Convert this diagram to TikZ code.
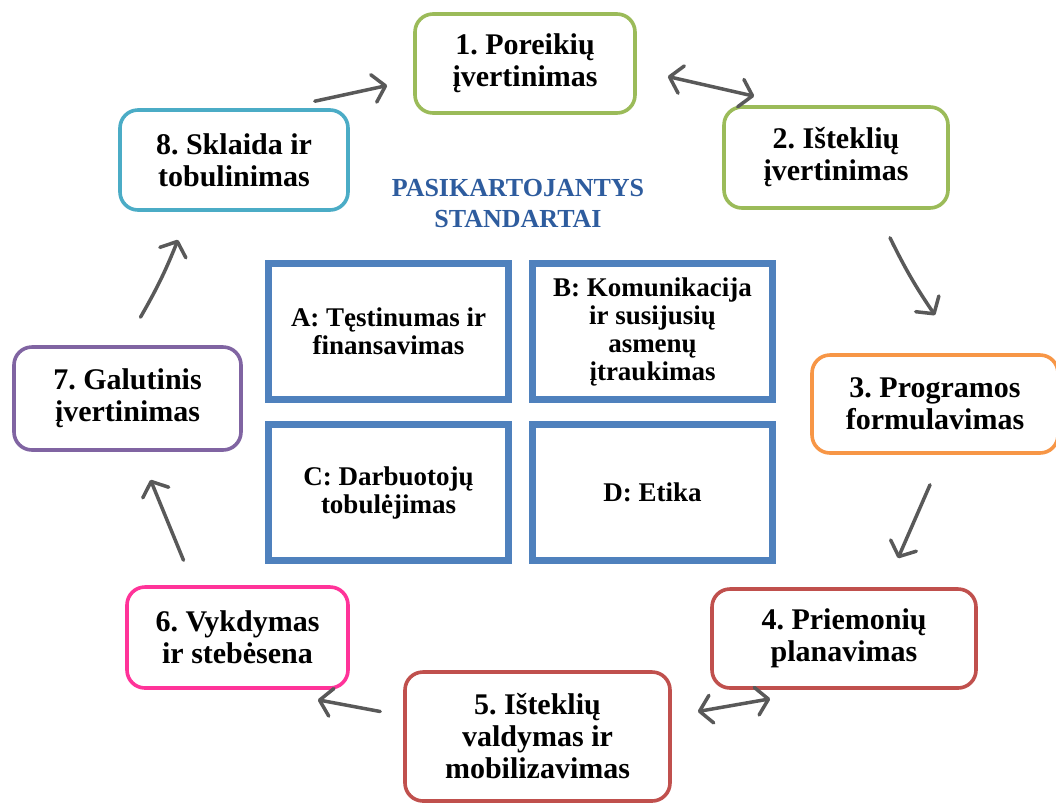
\documentclass[tikz,border=0pt]{standalone}
\usepackage{fontspec}
\setmainfont{Liberation Serif}
\usetikzlibrary{arrows.meta,shadows}
\definecolor{verde}{HTML}{9BBB59}
\definecolor{celeste}{HTML}{4BACC6}
\definecolor{naranja}{HTML}{F79646}
\definecolor{morado}{HTML}{8064A2}
\definecolor{rojo}{HTML}{C0504D}
\definecolor{rosa}{HTML}{FF3399}
\definecolor{azul}{HTML}{4F81BD}
\definecolor{azultxt}{HTML}{2E5C9E}
\definecolor{gris}{HTML}{595959}
\frenchspacing

\begin{document}
\begin{tikzpicture}[x=1pt,y=-1pt,
  etapa/.style={draw, rounded corners=18pt, line width=3.6pt, fill=white, align=center,
    font=\bfseries\fontsize{30}{32}\selectfont},
  estandar/.style={draw=azul, line width=7pt, fill=white, align=center,
    minimum width=240pt, minimum height=136pt, font=\bfseries\fontsize{27}{28}\selectfont,
    drop shadow={shadow xshift=2pt, shadow yshift=-3pt, opacity=.3}},
  flecha/.style={draw=gris, line width=3.5pt, line cap=round,
    -{Straight Barb[length=12pt,width=28pt,line cap=round,line join=round]}},
  doble/.style={flecha, {Straight Barb[length=12pt,width=28pt,line cap=round,line join=round]}-{Straight Barb[length=12pt,width=28pt,line cap=round,line join=round]}}]
  \useasboundingbox (0,0) rectangle (1056,807);
  % etapas del ciclo
  \node[etapa, draw=verde, minimum width=220pt, minimum height=99pt] (b1) at (525,63.5) {1. Poreikių\\įvertinimas};
  \node[etapa, draw=verde, minimum width=224pt, minimum height=101pt] (b2) at (836,157.5) {2. Išteklių\\įvertinimas};
  \node[etapa, draw=naranja, minimum width=246pt, minimum height=98pt] (b3) at (935,404) {3. Programos\\formulavimas};
  \node[etapa, draw=rojo, minimum width=264pt, minimum height=99pt] (b4) at (844,638.5) {4. Priemonių\\planavimas};
  \node[etapa, draw=rojo, minimum width=265pt, minimum height=129pt] (b5) at (537.5,736.5) {5. Išteklių\\valdymas ir\\mobilizavimas};
  \node[etapa, draw=rosa, minimum width=221pt, minimum height=101pt] (b6) at (237.5,637.5) {6. Vykdymas\\ir stebėsena};
  \node[etapa, draw=morado, minimum width=227pt, minimum height=103pt] (b7) at (127.5,398.5) {7. Galutinis\\įvertinimas};
  \node[etapa, draw=celeste, minimum width=228pt, minimum height=100pt] (b8) at (234,160) {8. Sklaida ir\\tobulinimas};
  % titulo central
  \node[text=azultxt, align=center, font=\bfseries\fontsize{26}{31}\selectfont] (tit) at (518,204) {PASIKARTOJANTYS\\STANDARTAI};
  % estandares
  \node[estandar] (sa) at (388.5,331.5) {A: Tęstinumas ir\\finansavimas};
  \node[estandar] (sb) at (652.5,331.5) {B: Komunikacija\\ir susijusių\\asmenų\\įtraukimas};
  \node[estandar] (sc) at (388.5,492.5) {C: Darbuotojų\\tobulėjimas};
  \node[estandar] (sd) at (652.5,492.5) {D: Etika};
  % flechas
  \draw[flecha] ([shift={(-35,-7)}]b8.north east) -- ([shift={(-26,22)}]b1.west);
  \draw[doble] ([shift={(31,13)}]b1.east) -- ([shift={(32,-9)}]b2.north west);
  \draw[flecha] ([shift={(54,28)}]b2.south) to[bend right=4] ([shift={(0,-38)}]b3.north);
  \draw[flecha] ([shift={(-5,30)}]b3.south) -- ([shift={(54,-29)}]b4.north);
  \draw[doble] ([shift={(26,-25)}]b5.east) -- ([shift={(60,9)}]b4.south west);
  \draw[flecha] ([shift={(-23,-25)}]b5.west) -- ([shift={(-32,10)}]b6.south east);
  \draw[flecha] ([shift={(-54,-25)}]b6.north) -- ([shift={(23,28)}]b7.south);
  \draw[flecha] ([shift={(13,-28)}]b7.north) to[bend right=4] ([shift={(-56,28)}]b8.south);
\end{tikzpicture}
\end{document}
